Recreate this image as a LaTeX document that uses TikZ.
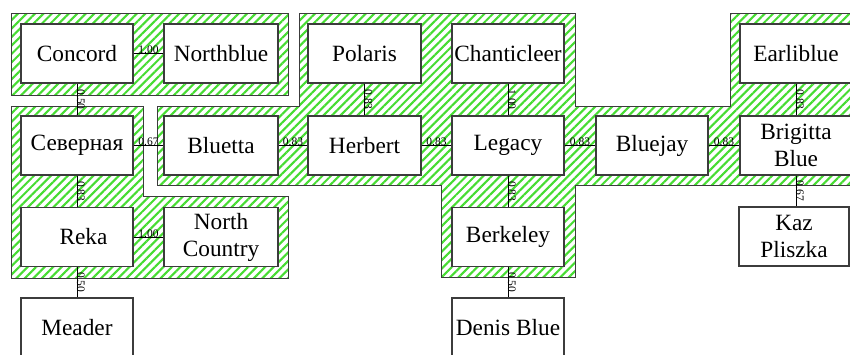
\documentclass[tikz,border=0pt]{standalone}
\usepackage{fontspec}
\setmainfont{Liberation Serif}
\usetikzlibrary{patterns.meta}
\definecolor{hatchgreen}{RGB}{70,220,50}
\definecolor{framegray}{RGB}{60,60,60}
\tikzset{
  cluster/.style={draw=framegray, line width=0.9pt,
    pattern={Lines[angle=45,distance=6pt,line width=2.1pt]}, pattern color=hatchgreen},
  plant/.style={draw=framegray, fill=white, line width=1.3pt, minimum width=112pt,
    minimum height=59pt, inner sep=0pt, align=center,
    font=\fontsize{23.3}{27}\selectfont},
  link/.style={draw=black, line width=0.8pt},
  hw/.style={font=\fontsize{11.5}{12}\selectfont, inner sep=0pt, anchor=base},
  vw/.style={hw, rotate=-90},
}
\begin{document}
\begin{tikzpicture}[x=1pt, y=-1pt]
\useasboundingbox (0,0) rectangle (850,354);
\clip (0,0) rectangle (850,354);
\fill[white] (0,0) rectangle (850,354);

% hatched clusters
\path[cluster] (11,13) rectangle (288,95);
\path[cluster] (11,106) -- (143,106) -- (143,196) -- (288,196) -- (288,278) -- (11,278) -- cycle;
\path[cluster] (157,106) -- (299,106) -- (299,13) -- (575,13) -- (575,106) -- (730,106)
  -- (730,13) -- (860,13) -- (860,185) -- (575,185) -- (575,277) -- (441,277) -- (441,185)
  -- (157,185) -- cycle;

% varieties
\node[plant] (concord)     at (77,53.5)    {Concord};
\node[plant, minimum width=114pt] (northblue) at (221,53.5) {Northblue};
\node[plant, minimum width=113pt] (polaris) at (364.5,53.5) {Polaris};
\node[plant] (chanticleer) at (508,53.5)   {Chanticleer};
\node[plant] (earliblue)   at (796,53.5)   {Earliblue};

\node[plant] (severnaya)   at (77,145.5)   {Северная};
\node[plant, minimum width=114pt] (bluetta) at (221,145.5) {Bluetta};
\node[plant, minimum width=113pt] (herbert) at (364.5,145.5) {Herbert};
\node[plant] (legacy)      at (508,145.5)  {Legacy};
\node[plant] (bluejay)     at (652,145.5)  {Bluejay};
\node[plant] (brigitta)    at (796,145.5)  {Brigitta\\Blue};

\node[plant] (reka)        at (77,237)     {\hspace*{13pt}Reka};
\node[plant, minimum width=114pt] (northcountry) at (221,237) {North\\Country};
\node[plant] (berkeley)    at (508,237)    {Berkeley};
\node[plant, minimum width=110pt] (kaz) at (794,236.5) {Kaz\\Pliszka};

\node[plant] (meader)      at (77,327.5)   {Meader};
\node[plant] (denis)       at (508,327.5)  {Denis Blue};

% weighted links
\draw[link] (concord) -- node[hw]{1.00} (northblue);
\draw[link] (concord) -- node[vw]{0.50} (severnaya);
\draw[link] (severnaya) -- node[hw]{0.67} (bluetta);
\draw[link] (severnaya) -- node[vw]{0.83} (reka);
\draw[link] (reka) -- node[hw]{1.00} (northcountry);
\draw[link] (reka) -- node[vw]{0.50} (meader);
\draw[link] (bluetta) -- node[hw]{0.83} (herbert);
\draw[link] (polaris) -- node[vw]{0.83} (herbert);
\draw[link] (herbert) -- node[hw]{0.83} (legacy);
\draw[link] (chanticleer) -- node[vw]{1.00} (legacy);
\draw[link] (legacy) -- node[hw]{0.83} (bluejay);
\draw[link] (legacy) -- node[vw]{0.83} (berkeley);
\draw[link] (berkeley) -- node[vw]{0.50} (denis);
\draw[link] (bluejay) -- node[hw]{0.83} (brigitta);
\draw[link] (earliblue) -- node[vw]{0.83} (brigitta);
\draw[link] (brigitta.south) -- node[vw]{0.67} (brigitta.south |- kaz.north);
\end{tikzpicture}
\end{document}
